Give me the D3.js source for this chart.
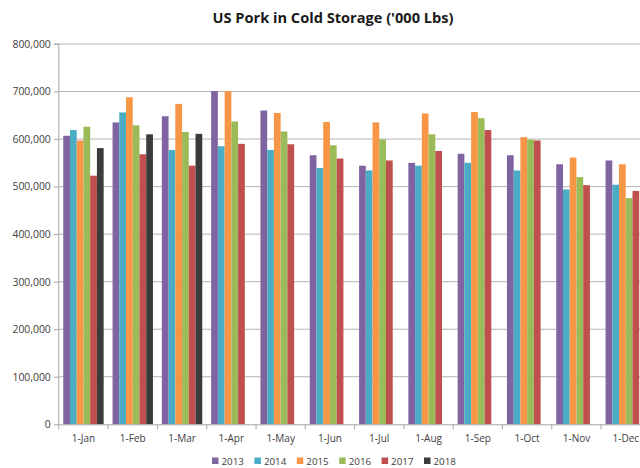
<!DOCTYPE html>
<html>
<head>
<meta charset="utf-8">
<script src="https://cdn.jsdelivr.net/npm/d3@7"></script>
<style>
  html, body { margin: 0; padding: 0; background: #fff; }
  svg { display: block; }
  text { font-family: "Open Sans", "Liberation Sans", sans-serif; }
</style>
</head>
<body>
<svg id="chart" width="640" height="468"></svg>
<script>
// Monthly pork stocks in cold storage, thousand pounds
const months = ["1-Jan", "1-Feb", "1-Mar", "1-Apr", "1-May", "1-Jun",
                "1-Jul", "1-Aug", "1-Sep", "1-Oct", "1-Nov", "1-Dec"];
const years = ["2013", "2014", "2015", "2016", "2017", "2018"];

const s2013 = [607000, 635000, 648000, 701000, 660000, 566000, 544000, 550000, 569000, 566000, 547000, 555000];
const s2014 = [619000, 656000, 577000, 585000, 577000, 539000, 534000, 544000, 550000, 534000, 494000, 504000];
const s2015 = [597000, 688000, 674000, 701000, 655000, 636000, 635000, 654000, 657000, 604000, 561000, 547000];
const s2016 = [626000, 629000, 615000, 637000, 616000, 587000, 599000, 610000, 644000, 599000, 520000, 476000];
const s2017 = [523000, 568000, 544000, 590000, 589000, 559000, 555000, 575000, 619000, 597000, 503000, 491000];
const s2018 = [581000, 610000, 611000, null, null, null, null, null, null, null, null, null];

const yTicks = [0, 100000, 200000, 300000, 400000, 500000, 600000, 700000, 800000];
const colors = ["#8064a2", "#4bacc6", "#f79646", "#9bbb59", "#c0504d", "#3b3b3b"];

const seriesValues = [s2013, s2014, s2015, s2016, s2017, s2018];

const svg = d3.select("#chart");

// Plot area (extends past the right edge of the canvas)
const plotLeft = 58.8, step = 49.3;
const plotRight = plotLeft + step * months.length;
const plotTop = 44, plotBottom = 424.3;

const x = d3.scaleBand().domain(months).range([plotLeft, plotRight]).paddingInner(0).paddingOuter(0);
const gap = 8.9;
const xs = d3.scaleBand().domain(years).range([gap / 2, step - gap / 2]).padding(0);
const y = d3.scaleLinear().domain([0, 800000]).range([plotBottom, plotTop]);

// Title
svg.append("text")
  .attr("x", 333).attr("y", 23)
  .attr("text-anchor", "middle")
  .attr("font-size", 14.6).attr("font-weight", "bold")
  .attr("fill", "#1a1a1a")
  .text("US Pork in Cold Storage ('000 Lbs)");

// Horizontal gridlines
svg.append("g")
  .selectAll("line")
  .data(yTicks.filter(d => d > 0))
  .join("line")
  .attr("x1", plotLeft).attr("x2", plotRight)
  .attr("y1", d => y(d)).attr("y2", d => y(d))
  .attr("stroke", "#b3b3b3").attr("stroke-width", 1);

// Bars
const groups = svg.append("g")
  .selectAll("g")
  .data(years.map((yr, i) => ({ yr, i, vals: seriesValues[i] })))
  .join("g")
  .attr("fill", d => colors[d.i]);

groups.selectAll("rect")
  .data(d => d.vals.map((v, j) => ({ v, m: months[j], yr: d.yr })).filter(o => o.v != null))
  .join("rect")
  .attr("x", o => x(o.m) + xs(o.yr))
  .attr("width", xs.bandwidth())
  .attr("y", o => y(o.v))
  .attr("height", o => y(0) - y(o.v));

// Y axis
const yAxis = d3.axisLeft(y)
  .tickValues(yTicks)
  .tickFormat(d3.format(","))
  .tickSize(5)
  .tickPadding(3);
const gy = svg.append("g").attr("transform", `translate(${plotLeft},0)`).call(yAxis);
gy.select(".domain").attr("stroke", "#a6a6a6").attr("d", `M-5,${plotTop}H0V${plotBottom}`);
gy.selectAll(".tick line").attr("stroke", "#a6a6a6");
gy.selectAll(".tick text").attr("font-size", 10.4).attr("fill", "#404040")
  .attr("font-family", "'Open Sans', sans-serif");

// X axis
const xAxis = d3.axisBottom(x).tickSize(0).tickPadding(11);
const gx = svg.append("g").attr("transform", `translate(0,${plotBottom})`).call(xAxis);
gx.select(".domain").attr("stroke", "#a6a6a6");
gx.selectAll(".tick text").attr("font-size", 10).attr("fill", "#404040")
  .attr("font-family", "'Open Sans', sans-serif");
// Tick marks between categories
gx.append("g")
  .selectAll("line")
  .data(d3.range(months.length + 1))
  .join("line")
  .attr("x1", i => plotLeft + i * step).attr("x2", i => plotLeft + i * step)
  .attr("y1", 0).attr("y2", 5)
  .attr("stroke", "#a6a6a6");

// Legend
const legend = svg.append("g").attr("transform", "translate(212,462)");
const item = legend.selectAll("g")
  .data(years)
  .join("g")
  .attr("transform", (d, i) => `translate(${i * 42.4},0)`);
item.append("rect")
  .attr("x", 0).attr("y", -4.5)
  .attr("width", 6.5).attr("height", 6.5)
  .attr("fill", (d, i) => colors[i]);
item.append("text")
  .attr("x", 9.5).attr("y", 3)
  .attr("font-size", 9.8).attr("fill", "#404040")
  .text(d => d);
</script>
</body>
</html>
